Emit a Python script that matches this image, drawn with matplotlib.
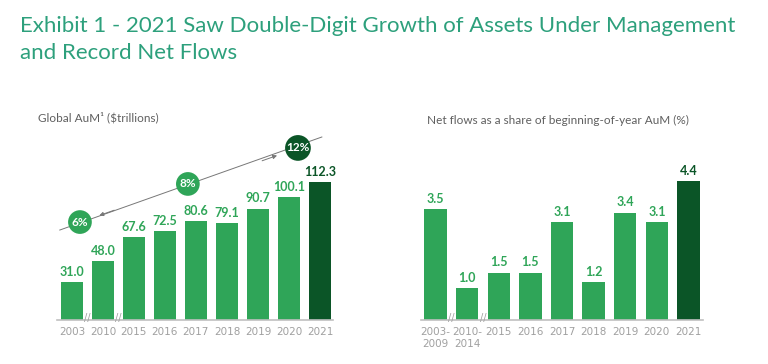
import matplotlib.pyplot as plt

# Data
AumYears = ['2003', '2010', '2015', '2016', '2017', '2018', '2019', '2020', '2021']
AumVals = [31.0, 48.0, 67.6, 72.5, 80.6, 79.1, 90.7, 100.1, 112.3]
CagrLabels = ['6%', '8%', '12%']
FlowYears = ['2003-\n2009', '2010-\n2014', '2015', '2016', '2017', '2018', '2019', '2020', '2021']
FlowVals = [3.5, 1.0, 1.5, 1.5, 3.1, 1.2, 3.4, 3.1, 4.4]

# Style
FontType = 'Lato'
Green = '#2fa558'
DarkGreen = '#0b5527'
TitleColor = '#2da07c'
SubColor = '#5f5f5f'
TickColor = '#a0a0a0'
AxisColor = '#c0c0c0'
BarWidth = 0.71

fig = plt.figure(figsize = (7.68, 3.64), dpi = 100)
fig.text(20/768, 1 - 26/364, 'Exhibit 1 - 2021 Saw Double-Digit Growth of Assets Under Management',
         fontsize = 16, color = TitleColor, fontname = FontType, va = 'center', ha = 'left')
fig.text(20/768, 1 - 53/364, 'and Record Net Flows',
         fontsize = 16, color = TitleColor, fontname = FontType, va = 'center', ha = 'left')
fig.text(38/768, 1 - 117/364, 'Global AuM\u00b9 ($trillions)',
         fontsize = 8.5, color = SubColor, fontname = FontType, va = 'center', ha = 'left')
fig.text(427/768, 1 - 120/364, 'Net flows as a share of beginning-of-year AuM (%)',
         fontsize = 8.5, color = SubColor, fontname = FontType, va = 'center', ha = 'left')


def draw_bars(ax, labels, vals, fmt, ymax, xlo, xhi):
    x = list(range(len(vals)))
    colors = [Green] * (len(vals) - 1) + [DarkGreen]
    ax.bar(x, vals, width = BarWidth, color = colors)
    for xi, v, c in zip(x, vals, colors):
        ax.annotate(fmt.format(v), (xi, v), xytext = (0, 3), textcoords = 'offset points',
                    ha = 'center', va = 'bottom', fontsize = 9, fontweight = 'bold',
                    color = c, fontname = FontType)
    ax.set_xlim(xlo, xhi)
    ax.set_ylim(0, ymax)
    ax.set_xticks(x)
    ax.set_xticklabels(labels, fontsize = 7.5, color = TickColor, linespacing = 1.3)
    ax.tick_params(axis = 'x', length = 0, pad = 5)
    ax.set_yticks([])
    for s in ['top', 'right', 'left']:
        ax.spines[s].set_visible(False)
    ax.spines['bottom'].set_color(AxisColor)
    ax.spines['bottom'].set_linewidth(1.2)
    # axis breaks
    for xb in [0.5, 1.5]:
        ax.text(xb, 0.01, '//', ha = 'center', va = 'center', fontsize = 7,
                color = TickColor, transform = ax.get_xaxis_transform())
    ax.set_facecolor('none')


# Left chart
ax1 = fig.add_axes([57/768, 44/364, 276/768, 190/364])
draw_bars(ax1, AumYears, AumVals, '{:.1f}', 190/1.229, -0.48, 8.42)

# Trend arrow and CAGR badges
ax1.plot([-0.39, 8.06], [73.2, 148.9], color = '#777777', lw = 0.7, clip_on = False)
ax1.annotate('', xy = (0.8, 84.3), xytext = (1.45, 90.1),
             arrowprops = dict(arrowstyle = '-|>', color = '#777777', lw = 0.7, mutation_scale = 6))
ax1.annotate('', xy = (6.7, 134.6), xytext = (6.05, 128.8),
             arrowprops = dict(arrowstyle = '-|>', color = '#777777', lw = 0.7, mutation_scale = 6))
BadgeX = [0.26, 3.74, 7.29]
BadgeY = [79.7, 110.7, 140.0]
BadgeC = [Green, Green, DarkGreen]
BadgePad = [0.3, 0.3, 0.1]
for lab, bx, by, bc, bp in zip(CagrLabels, BadgeX, BadgeY, BadgeC, BadgePad):
    ax1.text(bx, by, lab, ha = 'center', va = 'center', fontsize = 8.5, fontweight = 'bold',
             color = 'white', fontname = FontType,
             bbox = dict(boxstyle = 'circle,pad=%.2f' % bp, fc = bc, ec = 'none'))

# Right chart
ax2 = fig.add_axes([421/768, 44/364, 282/768, 190/364])
draw_bars(ax2, FlowYears, FlowVals, '{:.1f}', 190/31.6, -0.46, 8.46)

fig.savefig('out.png', dpi = 100)
